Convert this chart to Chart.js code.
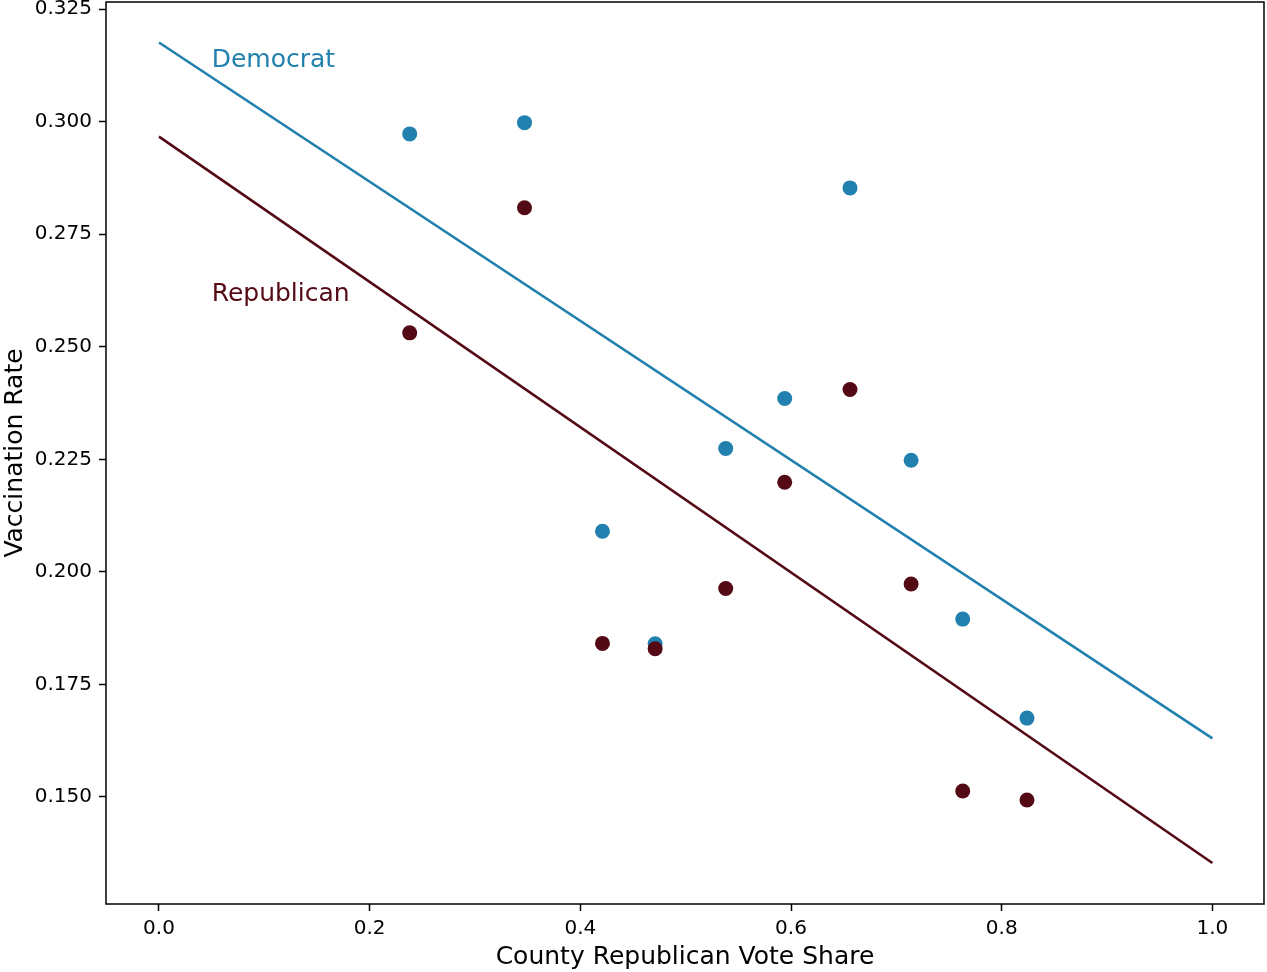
<!DOCTYPE html>
<html>
<head>
<meta charset="utf-8">
<script src="https://cdn.jsdelivr.net/npm/chart.js@4"></script>
<style>
  html, body { margin: 0; padding: 0; background: #fff; }
  #wrap { width: 1267px; height: 972px; }
</style>
</head>
<body>
<div id="wrap"><canvas id="chart" width="1267" height="972"></canvas></div>
<script>
// Datos
const voteShare = [0.238, 0.347, 0.421, 0.471, 0.538, 0.594, 0.656, 0.714, 0.763, 0.824];
const demRate = [0.2973, 0.2998, 0.2090, 0.1840, 0.2274, 0.2385, 0.2853, 0.2248, 0.1895, 0.1675];
const repRate = [0.2531, 0.2809, 0.1841, 0.1829, 0.1963, 0.2199, 0.2405, 0.1973, 0.1513, 0.1493];
const fitX = [0, 1];
const demFit = [0.3176, 0.1630];
const repFit = [0.2967, 0.1353];
const xTicks = [0.0, 0.2, 0.4, 0.6, 0.8, 1.0];
const yTicks = [0.150, 0.175, 0.200, 0.225, 0.250, 0.275, 0.300, 0.325];
const labelNames = ['Democrat', 'Republican'];
const labelX = [0.05, 0.05];
const labelY = [0.3121, 0.2601];

const colors = {
    dem: '#2180ae',
    rep: '#530a15'
};
const FONT = "'DejaVu Sans', sans-serif";

const toPoints = (xs, ys) => xs.map((x, i) => ({ x: x, y: ys[i] }));

// Recuadro completo alrededor del área del gráfico
const frame = {
    id: 'frame',
    afterDraw(chart) {
        const a = chart.chartArea;
        const ctx = chart.ctx;
        ctx.save();
        ctx.strokeStyle = '#000';
        ctx.lineWidth = 1.5;
        ctx.strokeRect(a.left, a.top, a.right - a.left, a.bottom - a.top);
        ctx.restore();
    }
};

// Etiquetas de texto de cada serie
const seriesLabels = {
    id: 'seriesLabels',
    afterDatasetsDraw(chart) {
        const ctx = chart.ctx;
        const sx = chart.scales.x, sy = chart.scales.y;
        const cols = [colors.dem, colors.rep];
        ctx.save();
        ctx.font = '25px ' + FONT;
        ctx.textAlign = 'left';
        ctx.textBaseline = 'alphabetic';
        labelNames.forEach((name, i) => {
            ctx.fillStyle = cols[i];
            ctx.fillText(name, sx.getPixelForValue(labelX[i]), sy.getPixelForValue(labelY[i]));
        });
        ctx.restore();
    }
};

new Chart(document.getElementById('chart'), {
    type: 'scatter',
    data: {
        datasets: [
            {
                label: 'Republican',
                data: toPoints(voteShare, repRate),
                backgroundColor: colors.rep,
                borderColor: colors.rep,
                pointRadius: 7.5,
                borderWidth: 0,
                order: 0
            },
            {
                label: 'Democrat',
                data: toPoints(voteShare, demRate),
                backgroundColor: colors.dem,
                borderColor: colors.dem,
                pointRadius: 7.5,
                borderWidth: 0,
                order: 1
            },
            {
                label: 'Democrat fit',
                data: toPoints(fitX, demFit),
                showLine: true,
                borderColor: colors.dem,
                borderWidth: 2.6,
                pointRadius: 0,
                order: 2
            },
            {
                label: 'Republican fit',
                data: toPoints(fitX, repFit),
                showLine: true,
                borderColor: colors.rep,
                borderWidth: 2.6,
                pointRadius: 0,
                order: 3
            }
        ]
    },
    options: {
        responsive: false,
        animation: false,
        layout: { autoPadding: false, padding: { top: 2, right: 3, left: 0, bottom: 0 } },
        plugins: {
            legend: { display: false },
            tooltip: { enabled: false }
        },
        scales: {
            x: {
                type: 'linear',
                min: -0.0503,
                max: 1.049,
                afterBuildTicks: axis => { axis.ticks = xTicks.map(v => ({ value: v })); },
                afterFit: axis => {
                    axis.height = 68;
                    axis.paddingLeft = 0;
                    axis.paddingRight = 0;
                },
                grid: { drawOnChartArea: false, tickLength: 7, tickColor: '#000', tickWidth: 1.5 },
                border: { display: false },
                ticks: {
                    color: '#000',
                    padding: 6,
                    maxRotation: 0,
                    font: { family: FONT, size: 20 },
                    callback: v => Number(v).toFixed(1)
                },
                title: {
                    display: true,
                    text: 'County Republican Vote Share',
                    color: '#000',
                    font: { family: FONT, size: 25 },
                    padding: { top: 6, bottom: 0 }
                }
            },
            y: {
                type: 'linear',
                min: 0.1262,
                max: 0.3266,
                afterBuildTicks: axis => { axis.ticks = yTicks.map(v => ({ value: v })); },
                afterFit: axis => {
                    axis.width = 106;
                    axis.paddingTop = 0;
                    axis.paddingBottom = 0;
                },
                grid: { drawOnChartArea: false, tickLength: 7, tickColor: '#000', tickWidth: 1.5 },
                border: { display: false },
                ticks: {
                    color: '#000',
                    padding: 7,
                    font: { family: FONT, size: 20 },
                    callback: v => Number(v).toFixed(3)
                },
                title: {
                    display: true,
                    text: 'Vaccination Rate',
                    color: '#000',
                    font: { family: FONT, size: 25 },
                    padding: { top: 0, bottom: 1 }
                }
            }
        }
    },
    plugins: [frame, seriesLabels]
});
</script>
</body>
</html>
